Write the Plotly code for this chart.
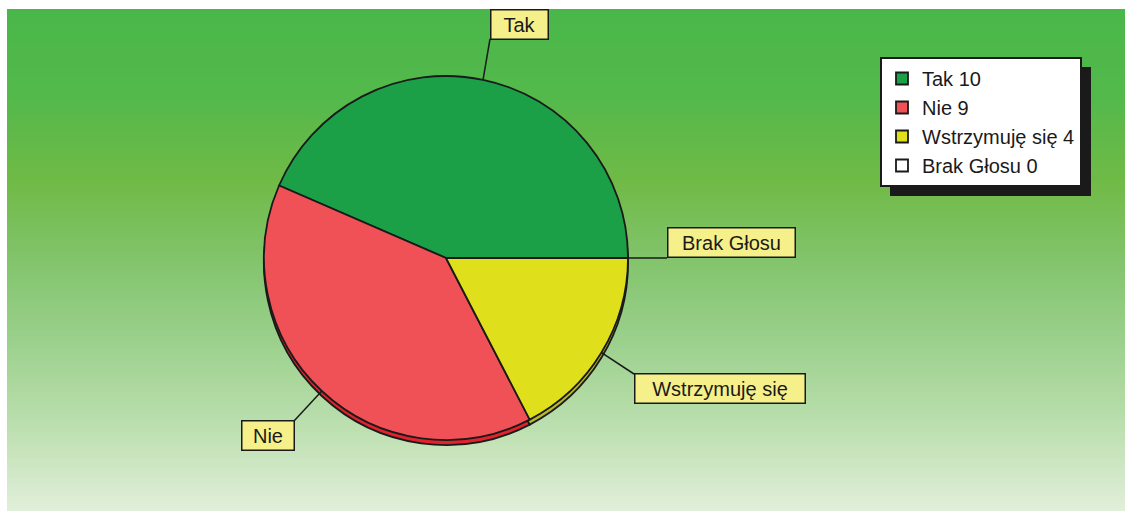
import math
import plotly.graph_objects as go

# ---- data ----
categories = ["Tak", "Nie", "Wstrzymuję się", "Brak Głosu"]
values = [10, 9, 4, 0]
legend_labels = [f"{c} {v}" for c, v in zip(categories, values)]

# ---- styles ----
W, H = 1125, 511
colors = ["#1b9f47", "#ef5157", "#dfe01b", "#ffffff"]
rim_colors = ["#137f38", "#e2232e", "#b9b928", "#dddddd"]
FONT = "Liberation Sans, Arial, sans-serif"

cx, cy, R = 446, 258, 182  # pie centre / radius in px
rim = 5

def px_x(x):
    return x / W

def px_y(y):
    return 1 - y / H

fig = go.Figure()

# background gradient (bands)
stops = [(9, (74, 183, 74)), (100, (84, 185, 75)), (180, (112, 186, 70)),
         (260, (130, 196, 108)), (340, (155, 208, 140)), (420, (185, 222, 172)),
         (511, (225, 239, 218))]

def grad(y):
    for (y0, c0), (y1, c1) in zip(stops[:-1], stops[1:]):
        if y0 <= y <= y1:
            t = (y - y0) / (y1 - y0)
            return tuple(round(a + (b - a) * t) for a, b in zip(c0, c1))
    return stops[-1][1]

shapes = []
step = 3
y = 9
while y < H:
    y2 = min(y + step, H)
    c = grad((y + y2) / 2)
    shapes.append(dict(type="rect", xref="paper", yref="paper", layer="below",
                       x0=px_x(7), x1=1, y0=px_y(y2 + 0.5), y1=px_y(y),
                       line=dict(width=0), fillcolor=f"rgb{c}"))
    y = y2

dom_x = [px_x(cx - R), px_x(cx + R)]
dom_y = [px_y(cy + R), px_y(cy - R)]
rim_y = [px_y(cy + R + rim), px_y(cy - R + rim)]

total = sum(values)
# plotly's counterclockwise pies end the first slice at `rotation`;
# the first slice must start at 3 o'clock and sweep counterclockwise
rotation = 90 - 360.0 * values[0] / total

# rim (3D thickness)
fig.add_trace(go.Pie(labels=legend_labels, values=values, sort=False,
                     direction="counterclockwise", rotation=rotation,
                     domain=dict(x=dom_x, y=rim_y), textinfo="none",
                     marker=dict(colors=rim_colors, line=dict(color="#1a1a1a", width=1.8)),
                     showlegend=False, hoverinfo="skip"))
# main pie
fig.add_trace(go.Pie(labels=legend_labels, values=values, sort=False,
                     direction="counterclockwise", rotation=rotation,
                     domain=dict(x=dom_x, y=dom_y), textinfo="none",
                     marker=dict(colors=colors, line=dict(color="#1a1a1a", width=1.8))))

# label boxes: (centre x, centre y, width, height, connector corner)
boxes = {
    "Tak": (519, 24, 58, 30, (490, 39)),
    "Nie": (267.5, 435.5, 53, 30, (294, 421)),
    "Wstrzymuję się": (719.5, 388, 171, 30, (634, 374)),
    "Brak Głosu": (731, 242, 128, 30, (667, 258)),
}

cum = 0
annotations = []
for cat, v in zip(categories, values):
    mid = (cum + v / 2) / total * 360.0  # degrees ccw from 3 o'clock
    cum += v
    ex = cx + R * math.cos(math.radians(mid))
    ey = cy - R * math.sin(math.radians(mid))
    bx, by, bw, bh, (kx, ky) = boxes[cat]
    shapes.append(dict(type="line", xref="paper", yref="paper", layer="above",
                       x0=px_x(ex), y0=px_y(ey), x1=px_x(kx), y1=px_y(ky),
                       line=dict(color="#1a1a1a", width=1.5)))
    annotations.append(dict(text=cat, xref="paper", yref="paper",
                            x=px_x(bx), y=px_y(by), xanchor="center", yanchor="middle",
                            showarrow=False, width=bw - 4, height=bh - 4,
                            bgcolor="#f6f08a", bordercolor="#1a1a1a", borderwidth=1.5,
                            borderpad=1, font=dict(family=FONT, size=20, color="#1a1a1a")))

# legend shadow (offset 10px right/down from the legend box)
shapes.append(dict(type="rect", xref="paper", yref="paper", layer="above",
                   x0=px_x(890), x1=px_x(1091), y0=px_y(196), y1=px_y(67),
                   fillcolor="#1a1a1a", line=dict(width=0)))

fig.update_layout(
    width=W, height=H,
    margin=dict(l=0, r=0, t=0, b=0),
    paper_bgcolor="white", plot_bgcolor="white",
    shapes=shapes, annotations=annotations,
    legend=dict(x=px_x(880), y=px_y(57), xanchor="left", yanchor="top",
                bgcolor="white", bordercolor="#1a1a1a", borderwidth=2,
                font=dict(family=FONT, size=20, color="#1a1a1a"),
                traceorder="normal"),
    font=dict(family=FONT),
)

fig.write_html("out.html", config={"displayModeBar": False},
               post_script="document.body.style.margin='0';")
